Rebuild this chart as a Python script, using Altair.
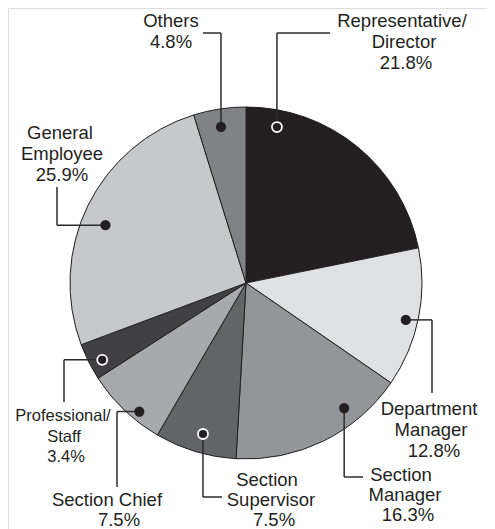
import math
import altair as alt
import pandas as pd

# ---- data ----
categories = ["Representative/Director", "Department Manager", "Section Manager",
              "Section Supervisor", "Section Chief", "Professional/Staff",
              "General Employee", "Others"]
values = [21.8, 12.8, 16.3, 7.5, 7.5, 3.4, 25.9, 4.8]
label_lines = [["Representative/", "Director", "21.8%"],
               ["Department", "Manager", "12.8%"],
               ["Section", "Manager", "16.3%"],
               ["Section", "Supervisor", "7.5%"],
               ["Section Chief", "7.5%"],
               ["Professional/", "Staff", "3.4%"],
               ["General", "Employee", "25.9%"],
               ["Others", "4.8%"]]

# ---- style / layout ----
colors = ["#231f20", "#e0e1e3", "#939598", "#636466", "#a7a9ac", "#414042", "#c7c8ca", "#808285"]
ring = [True, False, False, True, False, True, False, False]
W, H, M = 479, 521, 8
CX, CY, R = 246, 283, 176
# dot placement inside slice: fraction of slice angle, radius in px
dot_frac = [0.143, 0.532, 0.295, 0.469, 0.35, 0.38, 0.46, 0.473]
dot_rad = [159, 164, 159, 157, 167, 163, 152, 158]
# leader: first segment direction, elbow coordinate, end coordinate
leader = [("v", 33, 330), ("h", 432, 393), ("v", 477, 363), ("v", 497, 222),
          ("h", 117, 487), ("h", 64, 402), ("h", 57, 187), ("v", 33, 203)]
# text line positions (center x, baseline y)
text_pos = [[(402, 27), (404, 48), (406, 69)],
            [(429, 415), (431, 436), (434, 457)],
            [(401, 481), (405, 501), (408, 521)],
            [(267, 486), (271, 506), (274, 526)],
            [(107, 506), (119, 526)],
            [(63, 421), (64, 442), (66, 462)],
            [(60, 139), (62, 160), (62, 181)],
            [(171, 27), (171, 48)]]
text_size = [18.5, 18.5, 18.5, 18.5, 18.5, 16.5, 18.5, 18.5]
INK = "#231f20"

pie_df = pd.DataFrame({"cat": categories, "value": values, "idx": range(len(values))})

total = sum(values)
dots, segs, texts = [], [], []
cum = 0.0
for i, v in enumerate(values):
    a0 = cum / total * 360
    span = v / total * 360
    cum += v
    ang = math.radians(a0 + dot_frac[i] * span)
    dx = CX + dot_rad[i] * math.sin(ang)
    dy = CY - dot_rad[i] * math.cos(ang)
    dots.append({"x": dx, "y": dy, "ring": ring[i]})
    d, e1, e2 = leader[i]
    if d == "v":
        segs.append({"x": dx, "y": dy, "x2": dx, "y2": e1})
        segs.append({"x": dx, "y": e1, "x2": e2, "y2": e1})
    else:
        segs.append({"x": dx, "y": dy, "x2": e1, "y2": dy})
        segs.append({"x": e1, "y": dy, "x2": e1, "y2": e2})
    for line, (tx, ty) in zip(label_lines[i], text_pos[i]):
        texts.append({"x": tx, "y": ty, "t": line, "fs": text_size[i]})

dots_df = pd.DataFrame(dots)
segs_df = pd.DataFrame(segs)
texts_df = pd.DataFrame(texts)

xs = alt.Scale(domain=[M, M + W], range=[0, W])
ys = alt.Scale(domain=[M, M + H], range=[0, H])

pie = alt.Chart(pie_df).mark_arc(
    outerRadius=R, x=CX - M, y=CY - M, stroke=INK, strokeWidth=1
).encode(
    theta=alt.Theta("value:Q", stack=True),
    order=alt.Order("idx:Q"),
    color=alt.Color("cat:N", scale=alt.Scale(domain=categories, range=colors), legend=None),
)

lines = alt.Chart(segs_df).mark_rule(color="#2b2b2b", strokeWidth=1.5).encode(
    x=alt.X("x:Q", scale=xs, axis=None),
    y=alt.Y("y:Q", scale=ys, axis=None),
    x2="x2:Q", y2="y2:Q",
)

dots_solid = alt.Chart(dots_df).transform_filter("!datum.ring").mark_circle(
    size=105, color=INK, opacity=1
).encode(x=alt.X("x:Q", scale=xs, axis=None), y=alt.Y("y:Q", scale=ys, axis=None))

dots_ring = alt.Chart(dots_df).transform_filter("datum.ring").mark_point(
    filled=True, shape="circle", size=100, fill=INK, stroke="white", strokeWidth=1.8, opacity=1
).encode(x=alt.X("x:Q", scale=xs, axis=None), y=alt.Y("y:Q", scale=ys, axis=None))

labels = alt.Chart(texts_df).mark_text(
    align="center", baseline="alphabetic", font="Liberation Sans", color=INK
).encode(
    x=alt.X("x:Q", scale=xs, axis=None),
    y=alt.Y("y:Q", scale=ys, axis=None),
    text="t:N",
    size=alt.Size("fs:Q", scale=None, legend=None),
)

chart = alt.layer(pie, lines, dots_solid, dots_ring, labels).properties(
    width=W, height=H, padding=0, autosize=alt.AutoSizeParams(type="none")
).configure_view(stroke=None).configure(background="white")

chart.save("out.html", embed_options={"renderer": "svg", "actions": False})
